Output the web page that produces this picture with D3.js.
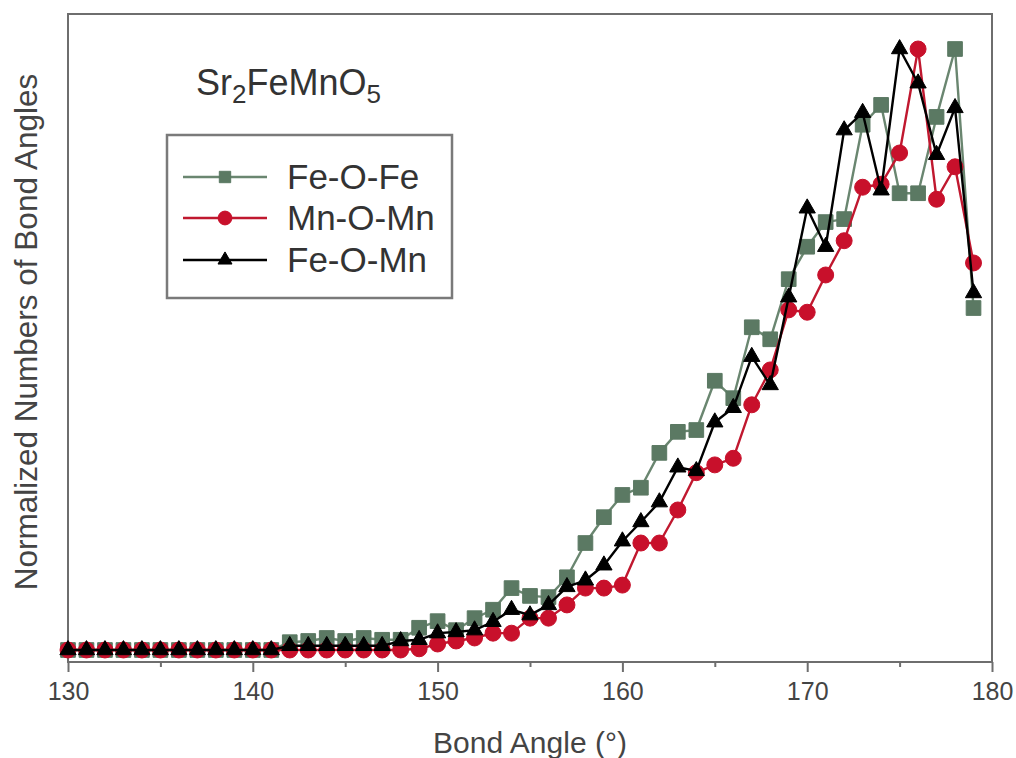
<!DOCTYPE html>
<html>
<head>
<meta charset="utf-8">
<script src="https://cdn.jsdelivr.net/npm/d3@7/dist/d3.min.js"></script>
<style>
  html, body { margin: 0; padding: 0; background: #fff; }
  svg { display: block; font-family: "Liberation Sans", Arial, sans-serif; }
</style>
</head>
<body>
<svg id="chart" width="1016" height="758"></svg>
<script>
// Bond angle bins (degrees)
const angles = [130,131,132,133,134,135,136,137,138,139,140,141,142,143,144,145,146,147,148,149,
                150,151,152,153,154,155,156,157,158,159,160,161,162,163,164,165,166,167,168,169,
                170,171,172,173,174,175,176,177,178,179];

// Normalized bond-angle counts for each bond type
const feOFe = [0,0,0,0,0,0,0,0,0,0,0,0,0.013,0.015,0.02,0.015,0.02,0.017,0.017,0.037,
               0.048,0.033,0.053,0.067,0.103,0.09,0.088,0.121,0.178,0.221,0.258,0.27,0.328,0.363,0.366,0.448,0.419,0.537,0.517,0.617,
               0.671,0.712,0.717,0.874,0.907,0.76,0.76,0.887,1.0,0.569];
const mnOMn = [0,0,0,0,0,0,0,0,0,0,0,0,0,0,0,0,0,0,0,0.002,
               0.01,0.015,0.02,0.028,0.028,0.053,0.053,0.075,0.103,0.103,0.108,0.178,0.178,0.233,0.295,0.308,0.319,0.408,0.466,0.566,
               0.562,0.624,0.681,0.77,0.775,0.827,1.0,0.75,0.804,0.644];
const feOMn = [0,0,0,0,0,0,0,0,0,0,0,0,0.007,0.007,0.007,0.007,0.007,0.007,0.015,0.017,
               0.028,0.03,0.033,0.047,0.067,0.058,0.075,0.105,0.116,0.141,0.181,0.213,0.246,0.304,0.298,0.379,0.403,0.488,0.441,0.587,
               0.735,0.671,0.865,0.894,0.765,1.0,0.943,0.824,0.902,0.594];

const seriesNames = ["Fe-O-Fe", "Mn-O-Mn", "Fe-O-Mn"];
const majorTicks = [130, 140, 150, 160, 170, 180];
const minorTicks = [135, 145, 155, 165, 175];

const series = [
  { name: seriesNames[0], values: feOFe, line: "#6a8670", fill: "#5b7963", symbol: d3.symbolSquare, size: 215, legendSize: 130 },
  { name: seriesNames[1], values: mnOMn, line: "#c0182f", fill: "#c8102b", symbol: d3.symbolCircle, size: 200, legendSize: 150 },
  { name: seriesNames[2], values: feOMn, line: "#000000", fill: "#000000", symbol: d3.symbolTriangle, size: 115, legendSize: 85 }
];

const svg = d3.select("#chart");
const plotLeft = 68, plotRight = 992, plotTop = 14, plotBottom = 662;

const x = d3.scaleLinear().domain([130, 180]).range([plotLeft, plotRight]);
const y = d3.scaleLinear().domain([0, 1]).range([650, 49]);

// Plot frame
svg.append("rect")
  .attr("x", plotLeft).attr("y", plotTop)
  .attr("width", plotRight - plotLeft).attr("height", plotBottom - plotTop)
  .attr("fill", "none").attr("stroke", "#6e6e6e").attr("stroke-width", 2);

// Bottom axis: major ticks with labels, minor ticks without
const gMajor = svg.append("g").attr("transform", `translate(0,${plotBottom})`)
  .call(d3.axisBottom(x).tickValues(majorTicks).tickSize(10).tickPadding(10).tickFormat(d3.format("d")));
gMajor.select(".domain").remove();
gMajor.selectAll(".tick line").attr("stroke", "#6e6e6e").attr("stroke-width", 2);
gMajor.selectAll(".tick text").attr("font-size", 25).attr("fill", "#444")
  .attr("font-family", "Liberation Sans, Arial, sans-serif");

const gMinor = svg.append("g").attr("transform", `translate(0,${plotBottom})`)
  .call(d3.axisBottom(x).tickValues(minorTicks).tickSize(5).tickFormat(""));
gMinor.select(".domain").remove();
gMinor.selectAll(".tick line").attr("stroke", "#6e6e6e").attr("stroke-width", 2);

// Axis titles
svg.append("text")
  .attr("x", (plotLeft + plotRight) / 2).attr("y", 753)
  .attr("text-anchor", "middle").attr("font-size", 30).attr("fill", "#444")
  .text("Bond Angle (°)");

svg.append("text")
  .attr("transform", "translate(37,332) rotate(-90)")
  .attr("text-anchor", "middle").attr("font-size", 31.5).attr("fill", "#444")
  .text("Normalized Numbers of Bond Angles");

// Series lines and markers
const line = d3.line().x((d, i) => x(angles[i])).y(d => y(d));

series.forEach(s => {
  const g = svg.append("g");
  g.append("path")
    .datum(s.values)
    .attr("d", line)
    .attr("fill", "none")
    .attr("stroke", s.line)
    .attr("stroke-width", 2.4)
    .attr("stroke-linejoin", "round");
  g.selectAll("path.mark")
    .data(s.values)
    .join("path")
    .attr("class", "mark")
    .attr("d", d3.symbol().type(s.symbol).size(s.size))
    .attr("transform", (d, i) => `translate(${x(angles[i])},${y(d)})`)
    .attr("fill", s.fill)
    .attr("stroke", s.fill)
    .attr("stroke-width", 1);
});

// Compound label
const title = svg.append("text")
  .attr("x", 196).attr("y", 95)
  .attr("font-size", 36).attr("fill", "#333");
title.append("tspan").text("Sr");
title.append("tspan").attr("font-size", 26).attr("dy", 8).text("2");
title.append("tspan").attr("dy", -8).text("FeMnO");
title.append("tspan").attr("font-size", 26).attr("dy", 8).text("5");

// Legend
const legend = svg.append("g");
legend.append("rect")
  .attr("x", 167).attr("y", 135).attr("width", 285).attr("height", 163)
  .attr("fill", "#fff").attr("stroke", "#7a7a7a").attr("stroke-width", 2.5);

const legendRows = [177, 218, 260];
series.forEach((s, i) => {
  const ly = legendRows[i];
  legend.append("line")
    .attr("x1", 183).attr("x2", 267).attr("y1", ly).attr("y2", ly)
    .attr("stroke", s.line).attr("stroke-width", 2.5);
  legend.append("path")
    .attr("d", d3.symbol().type(s.symbol).size(s.legendSize))
    .attr("transform", `translate(225,${ly})`)
    .attr("fill", s.fill).attr("stroke", s.fill);
  legend.append("text")
    .attr("x", 287).attr("y", ly + 12)
    .attr("font-size", 35).attr("fill", "#333")
    .text(s.name);
});
</script>
</body>
</html>
